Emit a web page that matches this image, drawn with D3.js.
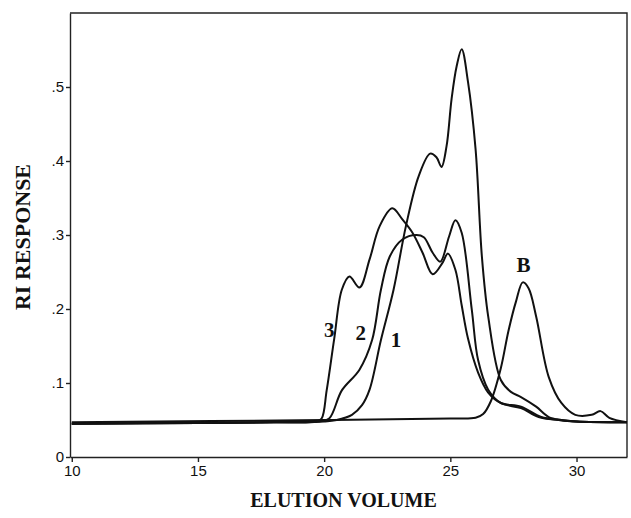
<!DOCTYPE html>
<html>
<head>
<meta charset="utf-8">
<script src="https://cdn.jsdelivr.net/npm/d3@7"></script>
<style>
  body { margin: 0; background: #fff; }
  .tick text { font-family: "Liberation Sans", Arial, sans-serif; font-size: 15px; fill: #111; }
  .axis path, .axis line { stroke: #222; stroke-width: 1.4px; }
  .trace { fill: none; stroke: #111; stroke-width: 2px; stroke-linejoin: round; }
  .lbl { font-family: "Liberation Serif", "Times New Roman", serif; font-weight: bold; fill: #111; }
</style>
</head>
<body>
<script>
// elutie volume (x) en RI response (y) per curve
var vol1  = [10, 15, 18, 20, 20.5, 21.1, 21.5, 21.8, 22.25, 22.75, 23.24, 23.75, 24.2, 24.45, 24.65, 24.85, 25.05, 25.25, 25.45, 25.7, 26.0, 26.25, 26.5, 27.0, 27.4, 27.8, 28.4, 28.9, 29.4, 30, 32];
var resp1 = [0.045, 0.046, 0.047, 0.048, 0.05, 0.057, 0.07, 0.091, 0.158, 0.226, 0.312, 0.38, 0.41, 0.405, 0.392, 0.42, 0.484, 0.528, 0.551, 0.507, 0.416, 0.271, 0.19, 0.104, 0.088, 0.081, 0.068, 0.054, 0.05, 0.048, 0.047];

var vol2  = [10, 15, 18, 19.8, 20.2, 20.7, 21.4, 21.9, 22.25, 22.6, 23.1, 23.65, 23.95, 24.3, 24.6, 24.95, 25.2, 25.45, 25.85, 26.1, 26.5, 27.0, 27.8, 28.5, 29.3, 30, 32];
var resp2 = [0.045, 0.046, 0.047, 0.048, 0.052, 0.09, 0.118, 0.158, 0.226, 0.271, 0.294, 0.30, 0.297, 0.276, 0.264, 0.298, 0.32, 0.303, 0.199, 0.131, 0.091, 0.073, 0.066, 0.054, 0.05, 0.048, 0.047];

var vol3  = [10, 15, 18, 19.7, 19.9, 20.1, 20.4, 20.7, 21.0, 21.4, 21.8, 22.2, 22.7, 23.1, 23.5, 23.9, 24.3, 24.7, 24.9, 25.2, 25.45, 25.7, 26.1, 26.5, 27.0, 27.8, 28.6, 29.3, 30, 32];
var resp3 = [0.045, 0.046, 0.047, 0.048, 0.052, 0.09, 0.16, 0.226, 0.244, 0.229, 0.267, 0.312, 0.336, 0.321, 0.303, 0.276, 0.247, 0.263, 0.275, 0.253, 0.205, 0.16, 0.114, 0.087, 0.073, 0.068, 0.054, 0.05, 0.048, 0.047];

var volB  = [10, 20, 25, 26.0, 26.3, 26.6, 27.0, 27.3, 27.6, 27.87, 28.1, 28.4, 28.9, 29.4, 29.95, 30.6, 30.95, 31.3, 32];
var respB = [0.047, 0.05, 0.052, 0.053, 0.058, 0.075, 0.12, 0.17, 0.21, 0.236, 0.228, 0.19, 0.108, 0.073, 0.057, 0.057, 0.062, 0.053, 0.047];

var xTicks = [10, 15, 20, 25, 30];
var yTicks = [0, 0.1, 0.2, 0.3, 0.4, 0.5];

// labels bij de curves: naam, volume, response
var curveNames = ["3", "2", "1", "B"];
var labelVol   = [20.2, 21.45, 22.85, 27.9];
var labelResp  = [0.162, 0.158, 0.149, 0.25];

var margin = { top: 13, right: 4, bottom: 61, left: 70 },
    width = 631 - margin.left - margin.right,
    height = 518 - margin.top - margin.bottom;

var svg = d3.select("body").append("svg")
    .attr("width", 631)
    .attr("height", 518)
    .append("g")
    .attr("transform", "translate(" + margin.left + "," + margin.top + ")");

var x = d3.scaleLinear().domain([9.93, 32]).range([0, width]);
var y = d3.scaleLinear().domain([0, 0.6]).range([height, 0]);

var xAxis = d3.axisBottom(x).tickValues(xTicks).tickSize(5).tickPadding(3).tickSizeOuter(0);
var yAxis = d3.axisLeft(y).tickValues(yTicks).tickSize(4).tickPadding(2).tickSizeOuter(0)
    .tickFormat(function(d) { return d === 0 ? "0" : d3.format(".1f")(d).replace("0.", "."); });

// kader boven en rechts
svg.append("path")
    .attr("d", "M0,0H" + width + "V" + height)
    .attr("fill", "none")
    .attr("stroke", "#222")
    .attr("stroke-width", 1.4);

svg.append("g")
    .attr("class", "axis")
    .attr("transform", "translate(0," + height + ")")
    .call(xAxis);

svg.append("g")
    .attr("class", "axis")
    .call(yAxis);

var line = d3.line()
    .x(function(d) { return x(d[0]); })
    .y(function(d) { return y(d[1]); })
    .curve(d3.curveCatmullRom.alpha(0.5));

function pairs(v, r) {
    return v.map(function(d, i) { return [d, r[i]]; });
}

var series = [pairs(volB, respB), pairs(vol1, resp1), pairs(vol2, resp2), pairs(vol3, resp3)];

svg.selectAll(".trace")
    .data(series)
    .enter().append("path")
    .attr("class", "trace")
    .attr("d", line);

svg.selectAll(".curve-label")
    .data(curveNames)
    .enter().append("text")
    .attr("class", "lbl curve-label")
    .attr("x", function(d, i) { return x(labelVol[i]); })
    .attr("y", function(d, i) { return y(labelResp[i]); })
    .attr("text-anchor", "middle")
    .style("font-size", "21px")
    .text(function(d) { return d; });

svg.append("text")
    .attr("class", "lbl")
    .attr("x", width / 2 - 5)
    .attr("y", height + 50)
    .attr("text-anchor", "middle")
    .style("font-size", "20px")
    .text("ELUTION VOLUME");

svg.append("text")
    .attr("class", "lbl")
    .attr("transform", "translate(-40," + (height / 2 + 2) + ") rotate(-90)")
    .attr("text-anchor", "middle")
    .style("font-size", "22px")
    .text("RI RESPONSE");
</script>
</body>
</html>
